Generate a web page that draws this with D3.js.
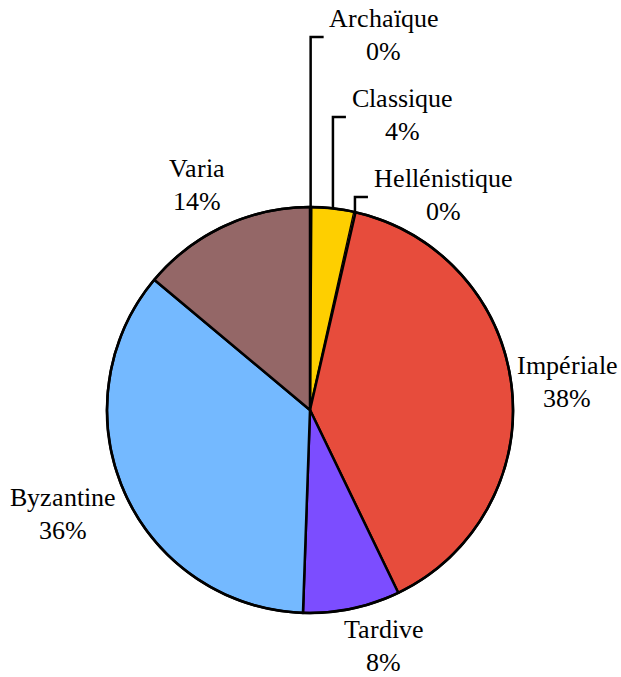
<!DOCTYPE html>
<html><head><meta charset="utf-8">
<style>
  @font-face {
    font-family: "ChartSerif";
    src: local("Liberation Serif"), local("LiberationSerif"), local("LiberationSerif-Regular"),
         local("Times New Roman"), local("Tinos"), local("DejaVu Serif");
    font-weight: normal;
    font-style: normal;
  }
  body { margin: 0; }
  .lbl { font-family: "ChartSerif", "Liberation Serif", serif; }
</style>
<script src="https://cdn.jsdelivr.net/npm/d3@7"></script></head>
<body>
<svg id="chart" width="621" height="677"></svg>
<script>
// ---- Data ----
const categories = ["Archaïque", "Classique", "Hellénistique", "Impériale", "Tardive", "Byzantine", "Varia"];
const shares     = [0.1, 3.4, 0.1, 39.2, 7.7, 35.5, 13.9];   // slice sizes
const pctLabels  = ["0%", "4%", "0%", "38%", "8%", "36%", "14%"]; // printed labels
const colors     = ["#fecf00", "#fecf00", "#e74c3c", "#e74c3c", "#7c4dff", "#74b9ff", "#946767"];

// ---- Layout ----
const cx = 310, cy = 410, R = 203;
const fontSize = 26, lineGap = 33;
const calloutCats = ["Archaïque", "Classique", "Hellénistique"];
const calloutElbowY = [37, 117, 197];
const labelNudge = { "Tardive": [21, -2], "Varia": [-10, -3], "Impériale": [-6, 0], "Byzantine": [-3, 6] };

// approximate serif advance widths (per 1000 em) used to size labels
const adv = { A:722, B:667, C:667, H:722, I:333, T:611, V:722, a:444, c:444, e:444, "é":444, h:500, i:278, "ï":278,
  l:278, m:778, n:500, p:500, q:500, r:333, s:389, t:278, u:500, v:500, y:500, z:444, "%":833 };
function textWidth(str) {
  let s = 0;
  for (const ch of str) s += (adv[ch] !== undefined ? adv[ch] : (/[0-9]/.test(ch) ? 500 : 480));
  return s / 1000 * fontSize;
}

const svg = d3.select("#chart");
const g = svg.append("g").attr("transform", `translate(${cx},${cy})`);

const data = categories.map((c, i) => ({ cat: c, v: shares[i], pct: pctLabels[i], color: colors[i] }));
const pie = d3.pie().value(d => d.v).sort(null).startAngle(0).endAngle(2 * Math.PI);
const arcs = pie(data);
const arc = d3.arc().innerRadius(0).outerRadius(R);

g.selectAll("path.slice")
  .data(arcs)
  .join("path")
  .attr("class", "slice")
  .attr("d", arc)
  .attr("fill", d => d.data.color)
  .attr("stroke", d => d.data.v < 0.5 ? "none" : "#000")
  .attr("stroke-width", 2.5)
  .attr("stroke-linejoin", "round");

g.append("circle").attr("r", R).attr("fill", "none").attr("stroke", "#000").attr("stroke-width", 2.5);

function addText(x, y, str) {
  svg.append("text")
    .attr("class", "lbl")
    .attr("x", x).attr("y", y)
    .attr("font-size", fontSize)
    .attr("fill", "#000")
    .attr("text-anchor", "middle")
    .text(str);
}
function addLabel(x, yTop, name, pct) {
  addText(x, yTop, name);
  addText(x, yTop + lineGap, pct);
}

arcs.forEach(a => {
  const mid = (a.startAngle + a.endAngle) / 2;
  const sx = Math.sin(mid), sy = -Math.cos(mid);
  const ci = calloutCats.indexOf(a.data.cat);
  if (ci >= 0) {
    const px = cx + R * sx, py = cy + R * sy;
    const ey = calloutElbowY[ci];
    const ex = px + 13;
    svg.append("path")
      .attr("d", d3.line()([[px, py], [px, ey], [ex, ey]]))
      .attr("fill", "none")
      .attr("stroke", "#000")
      .attr("stroke-width", 2.5);
    const w = textWidth(a.data.cat);
    addLabel(ex + 6 + w / 2, ey - 10, a.data.cat, a.data.pct);
  } else {
    const w = Math.max(textWidth(a.data.cat), textWidth(a.data.pct));
    const h = 58;
    const r0 = R + 12;
    const px = cx + r0 * sx, py = cy + r0 * sy;
    const nud = labelNudge[a.data.cat] || [0, 0];
    const bx = px + sx * w / 2 + nud[0];
    const by = py + sy * h / 2 + nud[1];
    addLabel(bx, by - h / 2 + 20, a.data.cat, a.data.pct);
  }
});
</script>
</body></html>
